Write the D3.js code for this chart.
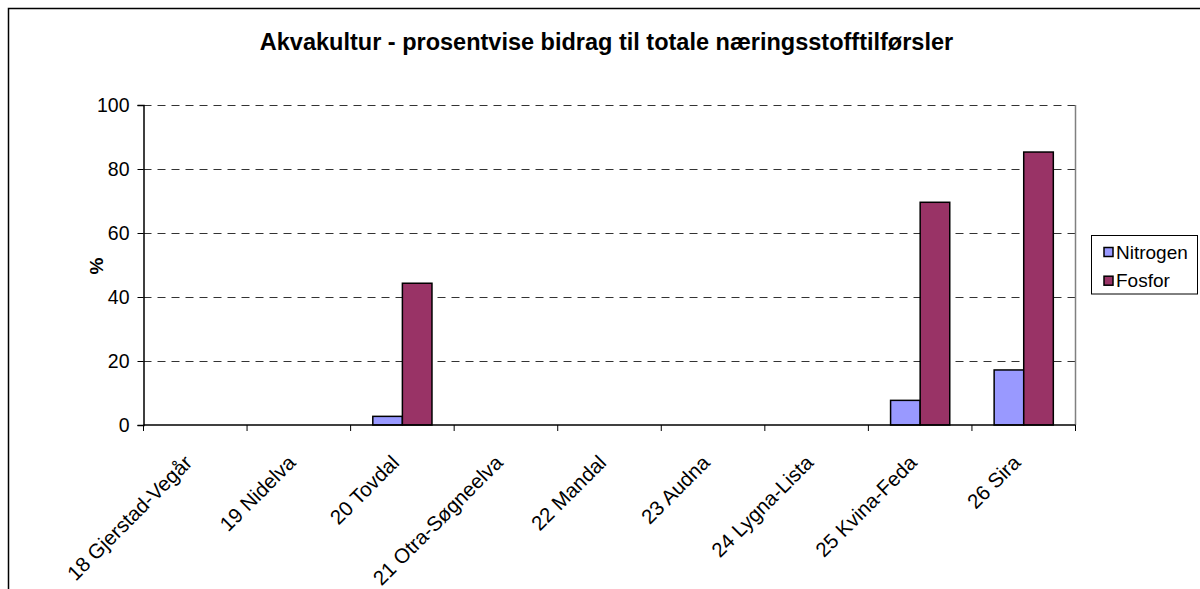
<!DOCTYPE html>
<html>
<head>
<meta charset="utf-8">
<script src="https://cdn.jsdelivr.net/npm/d3@7"></script>
<style>
html,body{margin:0;padding:0;background:#fff;}
svg{display:block;font-family:"Liberation Sans",Arial,sans-serif;}
</style>
</head>
<body>
<svg id="chart" width="1200" height="589"></svg>
<script>
const categories = ["18 Gjerstad-Vegår","19 Nidelva","20 Tovdal","21 Otra-Søgneelva","22 Mandal","23 Audna","24 Lygna-Lista","25 Kvina-Feda","26 Sira"];
const seriesNames = ["Nitrogen","Fosfor"];
const nitrogen = [0,0,2.7,0,0,0,0,7.7,17.2];
const fosfor = [0,0,44.3,0,0,0,0,69.6,85.3];
const yTicks = [0,20,40,60,80,100];
const colors = ["#9999FF","#993366"];
const titleText = "Akvakultur - prosentvise bidrag til totale næringsstofftilførsler";
const yTitle = "%";

(function(){
const svg = d3.select("#chart");
const pL = 143.5, pR = 1075.5, pT = 105, pB = 425;

// outer border
svg.append("rect").attr("x",8.5).attr("y",8.5).attr("width",1400).attr("height",800)
  .attr("fill","none").attr("stroke","#000").attr("stroke-width",1.5);

const x0 = d3.scaleBand().domain(categories).range([pL,pR]).paddingInner(0).paddingOuter(0);
const gap = x0.bandwidth()*1.5/3.5;
const x1 = d3.scaleBand().domain(seriesNames).range([gap/2, x0.bandwidth()-gap/2]);
const y = d3.scaleLinear().domain([0,100]).range([pB,pT]);

// gridlines
svg.append("g").selectAll("line").data(yTicks.filter(d=>d>0)).join("line")
  .attr("x1",pL).attr("x2",pR).attr("y1",d=>y(d)+0.5).attr("y2",d=>y(d)+0.5)
  .attr("stroke","#333").attr("stroke-width",1).attr("stroke-dasharray","8,6");

// right border of plot area
svg.append("line").attr("x1",pR).attr("x2",pR).attr("y1",pT).attr("y2",pB)
  .attr("stroke","#808080").attr("stroke-width",1.5);

// bars
const data = categories.map((c,i)=>({cat:c, vals:[nitrogen[i],fosfor[i]]}));
const groups = svg.append("g").selectAll("g").data(data).join("g")
  .attr("transform",d=>`translate(${x0(d.cat)},0)`);
groups.selectAll("rect").data(d=>d.vals.map((v,j)=>({v,name:seriesNames[j],j})).filter(e=>e.v>0)).join("rect")
  .attr("x",e=>x1(e.name)).attr("width",x1.bandwidth())
  .attr("y",e=>y(e.v)).attr("height",e=>y(0)-y(e.v))
  .attr("fill",e=>colors[e.j]).attr("stroke","#000").attr("stroke-width",1.5);

// y axis
const yAxis = d3.axisLeft(y).tickValues(yTicks).tickSize(6).tickPadding(8).tickFormat(d3.format("d"));
const gy = svg.append("g").attr("transform",`translate(${pL},0)`).call(yAxis);
gy.select(".domain").attr("stroke","#000").attr("stroke-width",1.5);
gy.selectAll(".tick line").attr("stroke","#000");
gy.selectAll(".tick text").attr("font-size",19.5).attr("fill","#000").attr("font-family","Liberation Sans, Arial, sans-serif");

// x axis
const tickPos = categories.map(c=>x0(c)).concat([pR]);
const gx = svg.append("g");
gx.append("line").attr("x1",pL).attr("x2",pR).attr("y1",pB).attr("y2",pB).attr("stroke","#000").attr("stroke-width",1.5);
gx.selectAll("line.t").data(tickPos).join("line").attr("class","t")
  .attr("x1",d=>d).attr("x2",d=>d).attr("y1",pB).attr("y2",pB+6).attr("stroke","#000");
gx.selectAll("text").data(categories).join("text")
  .attr("transform",d=>`translate(${x0(d)+x0.bandwidth()/2-2},464) rotate(-45)`)
  .attr("text-anchor","end").attr("font-size",20.5).attr("fill","#000").text(d=>d);

// title
svg.append("text").attr("x",606.5).attr("y",50).attr("text-anchor","middle")
  .attr("font-size",23.5).attr("font-weight","bold").attr("fill","#000").text(titleText);

// y title
svg.append("text").attr("transform","translate(103,266) rotate(-90)").attr("text-anchor","middle")
  .attr("font-size",19).attr("font-weight","bold").attr("fill","#000").text(yTitle);

// legend
const lg = svg.append("g");
lg.append("rect").attr("x",1091.5).attr("y",235.5).attr("width",106).attr("height",58.5)
  .attr("fill","#fff").attr("stroke","#000").attr("stroke-width",1);
seriesNames.forEach((n,i)=>{
  const cy = 252 + i*28.7;
  lg.append("rect").attr("x",1104).attr("y",cy-4.5).attr("width",9).attr("height",9)
    .attr("fill",colors[i]).attr("stroke","#000").attr("stroke-width",1.5);
  lg.append("text").attr("x",1116).attr("y",cy+6.5).attr("font-size",19).attr("fill","#000").text(n);
});
})();
</script>
</body>
</html>
